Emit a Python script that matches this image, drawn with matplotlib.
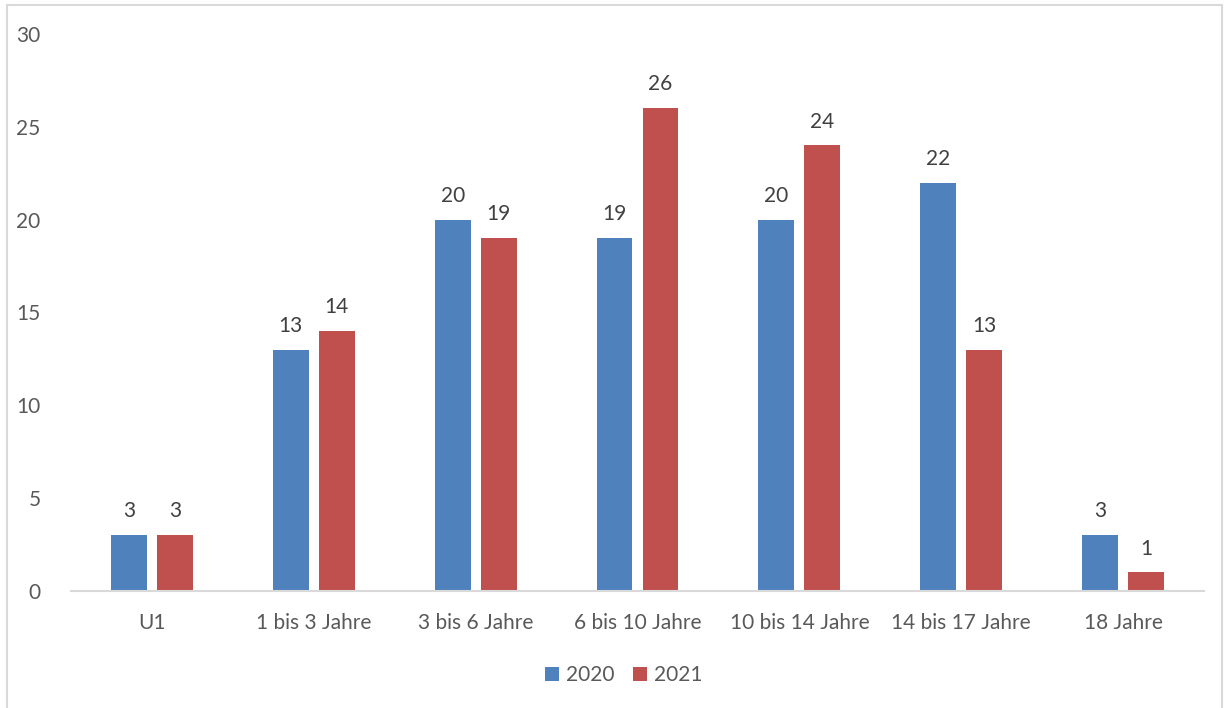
import matplotlib
matplotlib.use("Agg")
import matplotlib.pyplot as plt
from matplotlib.patches import Rectangle
import numpy as np

categories = ["U1", "1 bis 3 Jahre", "3 bis 6 Jahre", "6 bis 10 Jahre",
              "10 bis 14 Jahre", "14 bis 17 Jahre", "18 Jahre"]
series_names = ["2020", "2021"]
values_2020 = [3, 13, 20, 19, 20, 22, 3]
values_2021 = [3, 14, 19, 26, 24, 13, 1]
y_ticks = [0, 5, 10, 15, 20, 25, 30]

plt.rcParams['font.family'] = ['Lato', 'DejaVu Sans']
text_color = "#595959"
colors = ["#4F81BD", "#C0504D"]
fs = 15

fig = plt.figure(figsize=(12.26, 7.08), dpi=100)
ax = fig.add_axes([71/1226, 117/708, (1204-71)/1226, (591-34)/708])

x = np.arange(len(categories))
w = 0.222
off = 0.142
for vals, name, c, d in [(values_2020, series_names[0], colors[0], -off),
                         (values_2021, series_names[1], colors[1], off)]:
    bars = ax.bar(x + d, vals, width=w, color=c, label=name, zorder=2)
    for b, v in zip(bars, vals):
        ax.annotate(str(v), (b.get_x() + b.get_width()/2, v),
                    xytext=(0, 10), textcoords="offset points",
                    ha="center", va="bottom", fontsize=fs, color="#404040")

ax.set_xlim(-0.5, len(categories) - 0.5)
ax.set_ylim(0, 30)
ax.set_yticks(y_ticks)
ax.set_xticks(x)
ax.set_xticklabels(categories)
ax.tick_params(axis="both", length=0, labelsize=fs, labelcolor=text_color)
ax.tick_params(axis="y", pad=22)
ax.tick_params(axis="x", pad=16)
for s in ["top", "right", "left"]:
    ax.spines[s].set_visible(False)
ax.spines["bottom"].set_color("#d9d9d9")
ax.spines["bottom"].set_linewidth(1.5)

leg = fig.legend(loc="center", bbox_to_anchor=(624/1226, 1 - 675/708), ncol=2,
                 frameon=False, fontsize=fs, handlelength=0.65, handleheight=0.65,
                 handletextpad=0.35, columnspacing=0.9)
for t in leg.get_texts():
    t.set_color(text_color)

fig.patches.append(Rectangle((7/1226, -0.02), (1222-7)/1226, 1.02 - 5/708,
                             transform=fig.transFigure, fill=False,
                             edgecolor="#d9d9d9", linewidth=1.5))

fig.savefig("out.png", dpi=100)
